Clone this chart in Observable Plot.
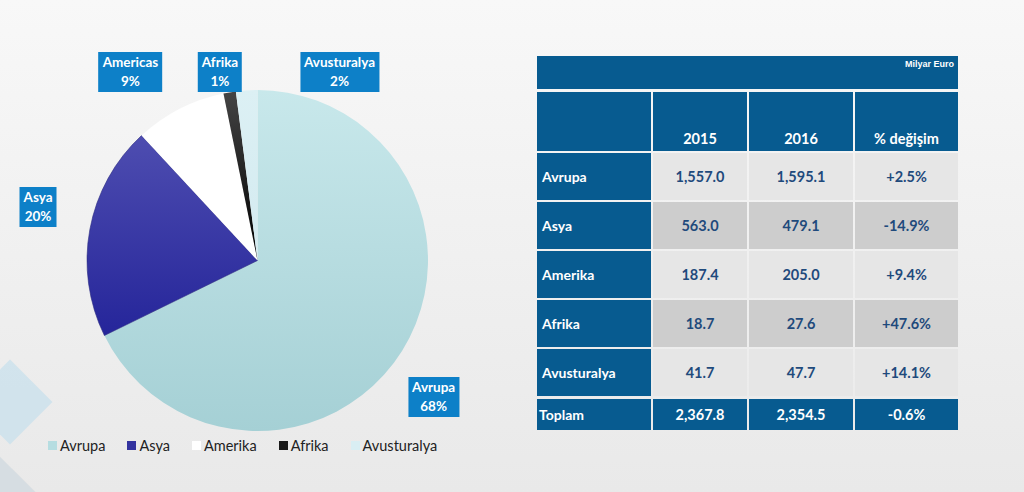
<!DOCTYPE html>
<html>
<head>
<meta charset="utf-8">
<script src="https://cdn.jsdelivr.net/npm/d3@7"></script>
<script src="https://cdn.jsdelivr.net/npm/@observablehq/plot@0.6"></script>
<style>
  html, body { margin: 0; padding: 0; }
  #wrap { position: relative; width: 1024px; height: 492px; overflow: hidden;
    background: linear-gradient(180deg, #f8f8f8 0%, #f1f1f1 45%, #e9e9e9 100%);
    font-family: Lato, "Open Sans", sans-serif; }
  .deco { position: absolute; transform: rotate(45deg); }
  #pie { position: absolute; left: 0; top: 0; }
  .plabel { position: absolute; transform: translate(-50%, -50%); background: #0d80c8; color: #fff;
    font: bold 13.5px Lato, sans-serif; line-height: 19px; text-align: center; padding: 1px 4px; white-space: nowrap; }
  #legend { position: absolute; left: 48px; top: 436px; }
  #legend .lg-swatches { font-family: Lato, sans-serif !important; font-size: 14.5px !important; color: #222 !important; min-height: 18px; }
  #legend .lg-swatch { margin-right: 22px !important; }
  #legend .lg-swatch svg { margin-right: 3px !important; }
  #tbl { position: absolute; left: 537px; top: 56px; width: 421px; }
  .bar { background: #075b90; height: 33px; color: #fff; font: bold 9px "Liberation Sans", Arial, sans-serif;
    text-align: right; padding: 3px 4px 0 0; box-sizing: border-box; margin-bottom: 3px; }
  .grid { display: grid; grid-template-columns: 114px 94px 104px 103px; column-gap: 2px; row-gap: 2px; }
  .grid > div { display: flex; align-items: center; justify-content: center; font: bold 14.5px Lato, sans-serif; color: #1f4a7c; }
  .hd { background: #075b90; color: #fff !important; align-items: flex-end !important; padding-bottom: 4px; font-size: 14.5px !important; box-sizing: border-box; }
  .rl { background: #075b90; color: #fff !important; justify-content: flex-start !important; padding-left: 5px; font-size: 14px !important; }
  .l1 { background: #e6e6e6; }
  .l2 { background: #cdcdcd; }
  .tot { background: #075b90; color: #fff !important; }
  .totl { justify-content: flex-start !important; padding-left: 2px; font-size: 14px !important; }
</style>
</head>
<body>
<div id="wrap">
  <div class="deco" style="left:-20px;top:372px;width:60px;height:60px;background:rgba(200,224,236,0.75);"></div>
  <div class="deco" style="left:-25px;top:467px;width:50px;height:50px;background:rgba(205,215,222,0.7);"></div>
  <div id="pie"></div>
  <div id="legend"></div>
  <div id="tbl"></div>
</div>
<script>
// ---- data ----
const regions = ["Avrupa", "Asya", "Amerika", "Afrika", "Avusturalya"];
const pieLabels = ["Avrupa", "Asya", "Americas", "Afrika", "Avusturalya"];
const sharePct = ["68%", "20%", "9%", "1%", "2%"];
const values2015 = [1557.0, 563.0, 187.4, 18.7, 41.7];
const values2016 = [1595.1, 479.1, 205.0, 27.6, 47.7];
const changes = ["+2.5%", "-14.9%", "+9.4%", "+47.6%", "+14.1%"];
const years = ["2015", "2016"];
const changeHeader = "% değişim";
const unitLabel = "Milyar Euro";
const totalLabel = "Toplam";
const total2015 = 2367.8;
const total2016 = 2354.5;
const totalChange = "-0.6%";

// ---- styles / layout (kept apart from the data) ----
const sliceColors = ["#b6dde1", "#33339f", "#ffffff", "#1a1a1a", "#d9eef3"];
const sliceGrad = [["#c8e8eb", "#a5d0d5"], ["#4e4db0", "#25259a"], ["#ffffff", "#ffffff"], ["#444444", "#000000"], ["#dcf0f4", "#d3eaf0"]];
// label anchor in pie units (centre = 0,0, radius = 1)
const labelAnchors = [[1.033, -0.80], [-1.287, 0.314], [-0.745, 1.106], [-0.22, 1.106], [0.481, 1.106]];

const fmt = d3.format(",.1f");
const pieData = regions.map((r, i) => ({region: r, value: values2016[i], i}));
const arcs = d3.pie().sort(null).value(d => d.value)(pieData);

const chart = Plot.plot({
  width: 520,
  height: 440,
  margin: 0,
  style: {background: "transparent", overflow: "visible"},
  x: {domain: [-1, 1], range: [87, 428], axis: null},
  y: {domain: [-1, 1], range: [431, 90], axis: null},
  marks: [
    Plot.dot(arcs, {
      x: () => 0,
      y: () => 0,
      render: (index, scales, values, dims, ctx) => {
        const cx = scales.x(0), cy = scales.y(0);
        const r = scales.x(1) - scales.x(0);
        const sel = Array.from(index, k => arcs[k]);
        const g = d3.create("svg:g");
        const defs = g.append("defs");
        sel.forEach(a => {
          const gr = defs.append("linearGradient").attr("id", "sg" + a.data.i)
            .attr("x1", 0).attr("y1", 0).attr("x2", 0).attr("y2", 1);
          gr.append("stop").attr("offset", 0).attr("stop-color", sliceGrad[a.data.i][0]);
          gr.append("stop").attr("offset", 1).attr("stop-color", sliceGrad[a.data.i][1]);
        });
        const arc = d3.arc().innerRadius(0).outerRadius(r);
        g.selectAll("path").data(sel).join("path")
          .attr("transform", `translate(${cx},${cy})`)
          .attr("d", arc)
          .attr("fill", d => `url(#sg${d.data.i})`)
          .attr("stroke", d => d.data.i === 1 ? "#2a2a80" : "none")
          .attr("stroke-width", 0.6);
        return g.node();
      }
    })
  ]
});
document.getElementById("pie").appendChild(chart);

// pie labels positioned through the plot's scales
const sx = chart.scale("x"), sy = chart.scale("y");
pieLabels.forEach((lab, i) => {
  const d = document.createElement("div");
  d.className = "plabel";
  d.innerHTML = `${lab}<br>${sharePct[i]}`;
  d.style.left = sx.apply(labelAnchors[i][0]) + "px";
  d.style.top = sy.apply(labelAnchors[i][1]) + "px";
  document.getElementById("wrap").appendChild(d);
});

// legend
const leg = Plot.legend({
  color: {type: "ordinal", domain: regions, range: sliceColors},
  swatchSize: 9,
  className: "lg"
});
document.getElementById("legend").appendChild(leg);

// table
const tbl = document.getElementById("tbl");
const bar = document.createElement("div");
bar.className = "bar";
bar.textContent = unitLabel;
tbl.appendChild(bar);
const grid = document.createElement("div");
grid.className = "grid";
grid.style.gridTemplateRows = "59px repeat(5, 47px) 32px";
const cell = (txt, cls, extra) => {
  const c = document.createElement("div");
  c.className = cls;
  c.textContent = txt;
  if (extra) Object.assign(c.style, extra);
  grid.appendChild(c);
};
cell("", "hd");
years.forEach(y => cell(y, "hd"));
cell(changeHeader, "hd");
regions.forEach((r, i) => {
  const cls = i % 2 === 0 ? "l1" : "l2";
  cell(r, "rl");
  cell(fmt(values2015[i]), cls);
  cell(fmt(values2016[i]), cls);
  cell(changes[i], cls);
});
const tm = {marginTop: "1px"};
cell(totalLabel, "tot totl", tm);
cell(fmt(total2015), "tot", tm);
cell(fmt(total2016), "tot", tm);
cell(totalChange, "tot", tm);
tbl.appendChild(grid);
</script>
</body>
</html>
